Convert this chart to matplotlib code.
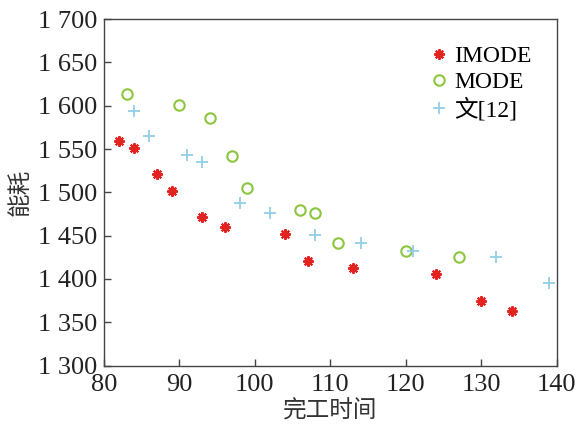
import matplotlib
matplotlib.use('Agg')
import matplotlib.pyplot as plt
from matplotlib.ticker import MultipleLocator, FuncFormatter

plt.rcParams['font.family'] = ['Liberation Serif', 'Noto Sans CJK SC']
plt.rcParams['mathtext.fontset'] = 'stix'

# IMODE
x1 = [82, 84, 87, 89, 93, 96, 104, 107, 113, 124, 130, 134]
y1 = [1559, 1551, 1521, 1502, 1471, 1460, 1452, 1421, 1413, 1406, 1375, 1363]
# MODE
x2 = [83, 90, 94, 97, 99, 106, 108, 111, 120, 127]
y2 = [1614, 1601, 1586, 1542, 1505, 1480, 1476, 1441, 1432, 1425]
# 文[12]
x3 = [84, 86, 91, 93, 98, 102, 108, 114, 121, 132, 139]
y3 = [1594, 1565, 1543, 1535, 1488, 1476, 1451, 1441, 1432, 1425, 1395]

labels = ['IMODE', 'MODE', '文[12]']

fig = plt.figure(figsize=(5.77, 4.25), dpi=100)
ax = fig.add_axes([0.180, 0.140, 0.785, 0.815])

ax.plot(x1, y1, ls='none', marker=(8, 2, 0), ms=7.5, mew=1.5, color='#e2231f', label=labels[0])
ax.plot(x2, y2, ls='none', marker='o', ms=7.5, mew=1.5, mfc='none', color='#8cc63e', label=labels[1])
ax.plot(x3, y3, ls='none', marker='+', ms=9, mew=1.3, color='#92cfe6', label=labels[2])

ax.set_xlim(80, 140)
ax.set_ylim(1300, 1700)
ax.xaxis.set_major_locator(MultipleLocator(10))
ax.yaxis.set_major_locator(MultipleLocator(50))
ax.yaxis.set_major_formatter(FuncFormatter(lambda v, p: '%d %03d' % (v // 1000, v % 1000)))

for s in ax.spines.values():
    s.set_color('#444444')
    s.set_linewidth(1.0)
ax.tick_params(direction='in', length=5, width=1, colors='#444444', labelcolor='#222222',
               labelsize=19, top=False, right=False)
ax.tick_params(axis='y', pad=5)
ax.tick_params(axis='x', pad=6)

ax.set_xlabel('完工时间', fontsize=17, color='#333333', labelpad=3)
ax.set_ylabel('能耗', fontsize=17, color='#333333', labelpad=4)

leg = ax.legend(loc='upper right', bbox_to_anchor=(0.975, 0.965), frameon=False, fontsize=17,
                handletextpad=0.15, labelspacing=0.2, handlelength=1.0, borderaxespad=0.2)

fig.savefig('out.png', dpi=100)
